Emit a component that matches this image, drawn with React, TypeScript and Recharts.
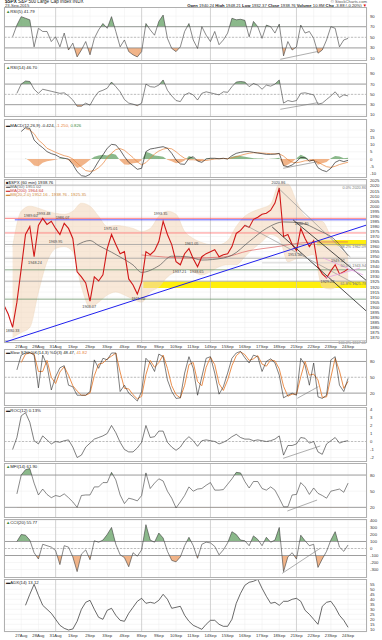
import React from 'react';
import {
  ComposedChart, Line, Area, XAxis, YAxis, CartesianGrid,
  ReferenceLine, ReferenceArea, ReferenceDot,
} from 'recharts';

const W = 382;
const PL = 4;
const PR = 15;
const PW = W - PL - PR;
const X_MIN = -1;
const X_MAX = 20.1;
const T0 = -1;
const STEP = 0.25;

const dayLabels = ['27Aug', '28Aug', '31Aug', '1Sep', '2Sep', '3Sep', '4Sep', '8Sep', '9Sep', '10Sep',
  '11Sep', '14Sep', '15Sep', '16Sep', '17Sep', '18Sep', '21Sep', '22Sep', '23Sep', '24Sep'];
const dayTicks = dayLabels.map((_, i) => i);
const weekStarts = [2, 7, 11, 16];

const price = [1902, 1893, 1880, 1905, 1938, 1972, 1980, 1950, 1981, 1988,
  1982, 1985, 1978, 1972, 1983, 1978, 1968, 1935, 1930, 1924,
  1906, 1930, 1926, 1932, 1958, 1972, 1962, 1953, 1955, 1928,
  1922, 1913, 1925, 1955, 1952, 1956, 1965, 1985, 1972, 1962,
  1945, 1942, 1953, 1958, 1948, 1940, 1950, 1953, 1955, 1957,
  1950, 1952, 1953, 1960, 1973, 1976, 1981, 1979, 1987, 1989,
  1992, 1993, 1996, 2003, 2018, 1970, 1972, 1962, 1956, 1978,
  1968, 1960, 1966, 1940, 1933, 1929, 1936, 1942, 1933, 1935,
  1938];

const bbIdx = [2, 4, 6, 8, 10, 12, 14, 16, 18, 20, 22, 24, 26, 28, 30, 32, 34, 36, 38, 40,
  42, 44, 46, 48, 50, 52, 54, 56, 58, 60, 62, 64, 66, 68, 70, 72, 74, 76, 78, 80];
const bbUpper = [1960, 1995, 2000, 1998, 1995, 1993, 1992, 1995, 2003, 2000, 1990, 1980, 1981, 1980, 1978, 1975, 1978, 1990, 1995, 1992,
  1975, 1968, 1964, 1962, 1962, 1966, 1980, 1990, 1995, 1998, 2002, 2022, 2022, 2005, 1990, 1986, 1985, 1970, 1958, 1952];
const bbLower = [1870, 1875, 1880, 1915, 1945, 1958, 1960, 1955, 1920, 1900, 1905, 1912, 1915, 1912, 1908, 1905, 1915, 1920, 1930, 1935,
  1938, 1935, 1932, 1935, 1940, 1942, 1942, 1950, 1958, 1965, 1972, 1968, 1945, 1948, 1950, 1952, 1920, 1918, 1922, 1924];

const ma50Idx = [17, 20, 22, 25, 27, 30, 32, 36, 39, 43, 46, 51, 53, 57, 61, 65, 69, 73, 77, 80];
const ma50 = [1961.6, 1966, 1961, 1954.5, 1949.7, 1941.8, 1934.5, 1941, 1950.5, 1949.7, 1946.7, 1948.7, 1951.5, 1965, 1978, 1984.4, 1983.4, 1976.4, 1966.5, 1951];
const ma200Idx = [32, 43, 51, 57, 63, 69, 74, 80];
const ma200 = [1951.7, 1948.7, 1949.7, 1956, 1959.6, 1963.6, 1964.6, 1964.6];

const rsi5 = [null, null, 51, 73, 89, 86, 83, 32, 67, 61,
  61, 42, 51, 32, 58, 26, 39, 13, 26, 42,
  17, 48, 64, 76, 67, 89, 61, 32, 45, 23,
  17, 13, 23, 76, 64, 54, 80, 92, 48, 29,
  23, 32, 61, 76, 45, 29, 70, 54, 42, 61,
  36, 45, 58, 86, 83, 84, 82, 51, 80, 70,
  48, 73, 70, 58, 75, 15, 42, 26, 32, 73,
  58, 61, 48, 20, 26, 45, 70, 67, 32, 45,
  48];

const rsi14 = [null, null, null, 52, 70, 76, 75, 60, 52, 60,
  58, 56, 54, 52, 53, 47, 39, 27, 27, 33,
  29, 44, 55, 58, 62, 74, 65, 55, 40, 33,
  31, 28, 33, 70, 65, 64, 68, 78, 58, 47,
  38, 36, 49, 53, 49, 39, 52, 55, 53, 51,
  49, 55, 54, 65, 74, 75, 74, 65, 71, 68,
  60, 68, 66, 70, 78, 33, 38, 36, 38, 52,
  53, 51, 49, 31, 33, 40, 47, 55, 44, 49,
  47];

const macd = [null, null, null, null, 19, 21.6, 21.1, 13.1, 10.1, 7.8,
  5.1, 3.7, 2.8, 1.1, 0.5, 0, -3.7, -8.7, -11.5, -12,
  -10.6, -6.4, -1.4, 2.8, 7.4, 10.1, 9.7, 6.2, 1.6, -2.3,
  -4.6, -7.1, -6.4, 5.1, 6.9, 7.4, 8, 8.5, 7.4, 3.9,
  -0.7, -3.4, -3.7, 0.5, 1.6, -1.4, -2.3, 0, 0.5, 0.5,
  0.2, 0.5, 0, 2.3, 3.9, 4.6, 5.1, 5.1, 4.6, 4.1,
  3.7, 3.2, 3.2, 3.4, 3.9, -4.6, -5.3, -4.1, -1.8, 1.1,
  0.9, -1.4, -0.7, -6, -7.8, -8.7, -6.4, -2.3, -0.9, -1.8,
  -0.9];

const signal = [null, null, null, null, null, 21, 20, 17.5, 13.1, 10.6,
  7.4, 6, 4.6, 3.4, 2.3, 1.6, 0, -2.8, -5.5, -8,
  -8.5, -8, -6, -3.2, 1, 4, 6.5, 7.2, 6, 3.5,
  1, -2, -4, -2.5, 0.5, 3.5, 5.5, 6.8, 7.5, 7,
  5, 2.5, 0.5, -0.5, -0.5, -0.8, -1.2, -1, -0.5, 0,
  0.2, 0.3, 0.3, 0.8, 1.6, 2.5, 3.3, 4, 4.3, 4.3,
  4.1, 3.9, 3.7, 3.5, 3.6, 2, -0.5, -2.2, -2.6, -2,
  -1.2, -1.2, -1, -2.2, -3.8, -5.3, -5.8, -5, -3.8, -3,
  -2.2];

const hist = [null, null, null, null, null, 0.5, -1.5, -4.5, -5, -2.5,
  -1.5, -1, -0.5, 0.3, 0.5, -0.8, -3.5, -6.2, -5, -3,
  -0.5, 1.5, 2.5, 3, 2.5, 3.8, 3, -1, -3.8, -4,
  -3, -2.5, -1, 5, 4, 2.5, 2, 1.5, -0.5, -1.5,
  -3, -2.5, -1, 2, 1, -1.5, -1, 0.3, 0.3, 0.2,
  0, 0.2, -0.2, 1.5, 2.3, 2, 1.5, 1, 0.5, 0.3,
  0.3, -0.2, 0.2, 0.3, 0.8, -5, -4, -2, 0.5, 3,
  1.5, -0.5, -1, -4, -3, -2, 0.5, 2, 1.8, 0.5,
  0.8];

const stoK = [null, null, null, 64, 92, 96, 97, 92, 30, 92,
  73, 26, 51, 68, 72, 35, 32, 16, 16, 16,
  23, 83, 67, 86, 83, 96, 96, 23, 35, 20,
  13, 5, 23, 86, 77, 61, 94, 89, 45, 23,
  10, 11, 58, 89, 67, 16, 51, 86, 89, 58,
  18, 32, 58, 86, 96, 99, 87, 77, 92, 89,
  61, 80, 85, 77, 54, 11, 16, 20, 16, 86,
  73, 35, 77, 13, 10, 16, 83, 89, 35, 23,
  48];

const stoD = [null, null, null, null, 78, 94, 96, 94, 61, 61,
  82, 50, 38, 60, 70, 54, 34, 24, 16, 16,
  20, 53, 75, 77, 85, 90, 96, 60, 29, 28,
  17, 9, 14, 55, 82, 69, 78, 92, 67, 34,
  17, 11, 35, 74, 78, 42, 34, 69, 88, 74,
  38, 25, 45, 72, 91, 98, 93, 82, 85, 91,
  75, 71, 83, 81, 66, 33, 14, 18, 18, 51,
  80, 54, 56, 45, 12, 13, 50, 86, 62, 29,
  42];

const roc = [null, null, -1.0, 0.5, 3.2, 3.6, 2.4, 0.1, -0.3, 0.7,
  0.2, -0.3, 0, -0.1, 0.1, 0.2, -0.7, -2.0, -1.7, -0.7,
  -0.2, 0.3, 0.5, 0.7, 1.0, 2.0, 1.1, -0.1, -1.0, -1.3,
  -1.3, -0.8, -0.1, 2.0, 0.5, 0.6, 1.3, 1.3, -0.1, -0.7,
  -1.1, -0.7, 0.1, 0.6, 0.1, -0.6, 0.1, 0.2, 0.1, 0,
  -0.3, -0.1, 0.2, 0.6, 0.9, 0.5, 0.3, 0.3, 0.1, 0.2,
  0.1, 0, 0.1, 0.3, 0.7, -1.7, -0.5, -0.5, -0.3, 0.5,
  0.4, -0.2, 0, -1.3, -1.6, -0.3, 0.1, 0.5, -0.2, 0,
  0.1];

const mfi = [null, null, null, 45, 80, 90, 92, 65, 43, 54,
  44, 38, 42, 40, 45, 38, 30, 20, 42, 43,
  43, 58, 58, 66, 66, 85, 71, 43, 27, 37,
  35, 32, 42, 84, 55, 65, 73, 69, 50, 37,
  19, 30, 42, 58, 50, 54, 55, 61, 66, 52,
  52, 53, 63, 73, 85, 84, 68, 56, 68, 68,
  55, 52, 58, 52, 37, 21, 21, 43, 44, 66,
  58, 44, 56, 46, 42, 37, 50, 52, 54, 48,
  65];

const cci = [null, null, null, 100, 200, 190, 120, -60, -150, 60,
  40, 20, -30, -230, 40, 20, -120, -330, -80, -20,
  -160, 110, 90, 120, 200, 300, 60, -90, -130, -260,
  -60, -110, -20, 340, 120, 90, 220, 150, -40, -170,
  -190, -120, 40, 160, 40, -140, 60, 90, 80, 30,
  -90, -20, 80, 240, 200, 120, 110, 40, 180, 130,
  40, 160, 90, 120, 300, -330, -120, -60, -150, 190,
  110, 40, 60, -270, -150, -40, 120, 240, 20, -40,
  50];

const adx = [null, null, null, null, null, 34, 45, 55, 44, 34,
  30, 26, 20, 14, 11, 9.3, 10.3, 18, 30, 37,
  39, 30, 22, 20, 29, 31, 24, 19, 18, 26,
  32, 38, 41, 36, 37, 36, 39, 45, 40, 31,
  32, 33, 24, 18, 14, 12, 10, 15, 19, 19,
  15, 13, 13, 20, 36, 46, 54, 57, 58, 60,
  51, 43, 36, 37, 34, 38, 38, 40, 41, 38,
  29, 25, 20, 15, 33, 37, 38, 32, 24, 19,
  12];

// Price-panel annotations (data coordinates: trading day, price)
const hLevels = [
  { p: 2020.86, c: '#aaaaaa', from: -1, lbl: '0.0% 2020.86' },
  { p: 1988, c: '#ff6060', from: -0.95 },
  { p: 1986.5, c: '#3030ff', from: -0.37 },
  { p: 1973.5, c: '#ff7070', from: -0.95 },
  { p: 1962.1, c: '#a0a0a0', from: -1, lbl: '38.2% 1962.09' },
  { p: 1948.5, c: '#a0a0a0', from: -1 },
  { p: 1943.9, c: '#cccccc', from: 14, lbl: '50.0% 1943.94' },
  { p: 1937, c: '#6c946c', from: -1 },
  { p: 1925.8, c: '#a0a0a0', from: -1, lbl: '61.8% 1925.78' },
  { p: 1908, c: '#6c946c', from: -1 },
  { p: 1867.0, c: '#bbbbbb', from: -1, lbl: '100.0% 1867.01' },
];
const yellowBands = [
  { t1: 7.1, t2: X_MAX, p1: 1919, p2: 1925.5 },
  { t1: 17.2, t2: X_MAX, p1: 1961, p2: 1966.5 },
];
const trendLines = [
  { t1: -0.93, p1: 1865.5, t2: X_MAX, p2: 1981.5, c: '#2020ee', w: 1 },
  { t1: 15.81, p1: 1986.3, t2: X_MAX, p2: 1925.9, c: '#222222', w: 0.8 },
  { t1: 14.59, p1: 1979.4, t2: X_MAX, p2: 1895.6, c: '#222222', w: 0.8 },
  { t1: 14.94, p1: 2018, t2: 19.13, p2: 1949.7, c: '#888888', w: 0.6 },
  { t1: 13.02, p1: 1981.4, t2: 19.53, p2: 1922, c: '#888888', w: 0.6 },
  { t1: 17.56, p1: 1948.7, t2: 19.88, p2: 1931.9, c: '#e39be3', w: 0.7 },
  { t1: 17.67, p1: 1929, t2: 19.7, p2: 1938.8, c: '#e39be3', w: 0.7 },
];
const swingLabels = [
  { t: -0.5, p: 1880, text: '1880.33', pos: 'bottom' },
  { t: 0.55, p: 1987, text: '1989.60', pos: 'top' },
  { t: 0.8, p: 1947, text: '1948.24', pos: 'bottom' },
  { t: 1.3, p: 1989, text: '1993.48', pos: 'top' },
  { t: 2.0, p: 1968, text: '1969.95', pos: 'bottom' },
  { t: 2.4, p: 1985, text: '1986.07', pos: 'top' },
  { t: 3.95, p: 1904, text: '1903.07', pos: 'bottom' },
  { t: 5.2, p: 1974, text: '1975.01', pos: 'top' },
  { t: 6.8, p: 1912, text: '1911.70', pos: 'bottom' },
  { t: 8.1, p: 1989, text: '1993.35', pos: 'top' },
  { t: 9.2, p: 1939, text: '1937.21', pos: 'bottom' },
  { t: 9.9, p: 1960, text: '1961.05', pos: 'top' },
  { t: 10.2, p: 1939, text: '1938.65', pos: 'bottom' },
  { t: 14.95, p: 2020, text: '2020.86', pos: 'top' },
  { t: 15.9, p: 1955, text: '1953.50', pos: 'bottom' },
  { t: 16.3, p: 1979, text: '1980.40', pos: 'top' },
  { t: 17.8, p: 1929, text: '1929.22', pos: 'bottom' },
  { t: 18.4, p: 1943, text: '1949.52', pos: 'top' },
];

const rows: any[] = price.map((p, i) => ({
  t: T0 + i * STEP,
  price: p,
  rsi5: rsi5[i], rsi14: rsi14[i],
  macd: macd[i], signal: signal[i], hist: hist[i],
  stoK: stoK[i], stoD: stoD[i], roc: roc[i], mfi: mfi[i], cci: cci[i], adx: adx[i],
  bb: null, ma50: null, ma200: null,
}));
bbIdx.forEach((ix, k) => { rows[ix].bb = [bbLower[k], bbUpper[k]]; });
ma50Idx.forEach((ix, k) => { rows[ix].ma50 = ma50[k]; });
ma200Idx.forEach((ix, k) => { rows[ix].ma200 = ma200[k]; });

const GREEN = '#3e8a3e';
const ORANGE = '#e8823a';
const FONT = 'Liberation Sans, Arial, sans-serif';

function threshGrad(id: string, vals: (number | null)[], th: number, above: boolean, color: string) {
  const nums = vals.filter((v) => v != null) as number[];
  const hi = Math.max(th, ...nums);
  const lo = Math.min(th, ...nums);
  const off = hi === lo ? 0 : (hi - th) / (hi - lo);
  return (
    <linearGradient id={id} x1="0" y1="0" x2="0" y2="1">
      <stop offset={0} stopColor={color} stopOpacity={above ? 1 : 0} />
      <stop offset={off} stopColor={color} stopOpacity={above ? 1 : 0} />
      <stop offset={off} stopColor={color} stopOpacity={above ? 0 : 1} />
      <stop offset={1} stopColor={color} stopOpacity={above ? 0 : 1} />
    </linearGradient>
  );
}

function Panel({ top, h, domain, ticks, showX = false, children }: any) {
  const xH = showX ? 7 : 0;
  return (
    <div style={{ position: 'absolute', left: 0, top, width: W, height: h + xH }}>
      <ComposedChart width={W} height={h + xH} data={rows} margin={{ top: 0, right: 0, bottom: 0, left: PL }}>
        <CartesianGrid stroke="#ececec" strokeWidth={0.5} />
        <XAxis dataKey="t" type="number" domain={[X_MIN, X_MAX]} ticks={dayTicks} allowDataOverflow
          hide={!showX} height={xH} interval={0} tickFormatter={(v: number) => dayLabels[v] ?? ''}
          tick={{ fontSize: 4.2, fill: '#333' }} tickLine={false} axisLine={false} tickSize={1} tickMargin={1} />
        <YAxis orientation="right" width={PR} domain={domain} ticks={ticks} allowDataOverflow interval={0}
          tick={{ fontSize: 4.2, fill: '#333' }} tickLine={false} axisLine={false} tickSize={2} tickMargin={1} />
        {weekStarts.map((w) => <ReferenceLine key={'w' + w} x={w} stroke="#c4c4c4" strokeWidth={0.7} />)}
        {children}
      </ComposedChart>
      <div style={{ position: 'absolute', left: PL, top: 0, width: PW, height: h, border: '0.7px solid #b0b0b0', boxSizing: 'border-box', pointerEvents: 'none' }} />
    </div>
  );
}

const lineProps = { dot: false, isAnimationActive: false, activeDot: false as any };

function Legend({ top, children }: any) {
  return (
    <div style={{ position: 'absolute', left: 6, top, fontSize: 4.3, lineHeight: '5px', whiteSpace: 'nowrap', color: '#222' }}>
      {children}
    </div>
  );
}

function divLine(t1: number, p1: number, t2: number, p2: number, key: string) {
  return <ReferenceLine key={key} segment={[{ x: t1, y: p1 }, { x: t2, y: p2 }]} stroke="#777" strokeWidth={0.6} ifOverflow="visible" />;
}

export default function App() {
  return (
    <div style={{ position: 'absolute', left: 0, top: 0, width: W, height: 640, background: '#fff', overflow: 'hidden', fontFamily: FONT }}>
      {/* Header */}
      <div style={{ position: 'absolute', left: 5, top: 0, fontSize: 4.6, lineHeight: '4px', whiteSpace: 'nowrap', color: '#222' }}>
        <b>$SPX</b> S&amp;P 500 Large Cap Index INDX
      </div>
      <div style={{ position: 'absolute', right: 15, top: 0, fontSize: 4.2, lineHeight: '4px', whiteSpace: 'nowrap', color: '#555' }}>
        © StockCharts.com
      </div>
      <div style={{ position: 'absolute', left: 5, top: 4, fontSize: 4.2, lineHeight: '4px', whiteSpace: 'nowrap', color: '#333' }}>
        23-Sep-2015
      </div>
      <div style={{ position: 'absolute', right: 15, top: 4, fontSize: 4.2, lineHeight: '4px', whiteSpace: 'nowrap', color: '#222' }}>
        <b>Open</b> 1940.24 <b>High</b> 1948.21 <b>Low</b> 1932.37 <b>Close</b> 1938.76 <b>Volume</b> 10.8M <b>Chg</b> -3.88 (-0.20%) <span style={{ color: '#d00' }}>▼</span>
      </div>

      {/* RSI(5) */}
      <Panel top={7} h={54} domain={[5.3, 107.2]} ticks={[10, 30, 50, 70, 90]}>
        <defs>
          {threshGrad('g1u', rsi5, 70, true, GREEN)}
          {threshGrad('g1d', rsi5, 30, false, ORANGE)}
        </defs>
        <ReferenceLine y={70} stroke="#888" strokeWidth={0.8} />
        <ReferenceLine y={30} stroke="#888" strokeWidth={0.8} />
        <ReferenceLine y={50} stroke="#999" strokeWidth={0.6} strokeDasharray="2 1.5" />
        <Area dataKey="rsi5" baseValue={70} type="linear" fill="url(#g1u)" stroke="none" isAnimationActive={false} activeDot={false} />
        <Area dataKey="rsi5" baseValue={30} type="linear" fill="url(#g1d)" stroke="none" isAnimationActive={false} activeDot={false} />
        <Line dataKey="rsi5" stroke="#3a3a3a" strokeWidth={0.6} {...lineProps} />
        {divLine(15.06, 8.5, 17.2, 23, 'd1')}
      </Panel>
      <Legend top={8.5}><span style={{ color: GREEN }}>▲</span>RSI(5) 41.79</Legend>

      {/* RSI(14) */}
      <Panel top={63} h={54} domain={[6, 111]} ticks={[10, 30, 50, 70, 90]}>
        <defs>
          {threshGrad('g2u', rsi14, 70, true, GREEN)}
          {threshGrad('g2d', rsi14, 30, false, ORANGE)}
        </defs>
        <ReferenceLine y={70} stroke="#888" strokeWidth={0.8} />
        <ReferenceLine y={30} stroke="#888" strokeWidth={0.8} />
        <ReferenceLine y={50} stroke="#999" strokeWidth={0.6} strokeDasharray="2 1.5" />
        <Area dataKey="rsi14" baseValue={70} type="linear" fill="url(#g2u)" stroke="none" isAnimationActive={false} activeDot={false} />
        <Area dataKey="rsi14" baseValue={30} type="linear" fill="url(#g2d)" stroke="none" isAnimationActive={false} activeDot={false} />
        <Line dataKey="rsi14" stroke="#3a3a3a" strokeWidth={0.6} {...lineProps} />
        {divLine(15.06, 21, 17.27, 34, 'd2')}
      </Panel>
      <Legend top={64.5}><span style={{ color: GREEN }}>▲</span>RSI(14) 46.70</Legend>

      {/* MACD */}
      <Panel top={119} h={59} domain={[-13.1, 27.6]} ticks={[-10, -5, 0, 5, 10, 15, 20]}>
        <defs>
          <linearGradient id="g3" x1="0" y1="0" x2="0" y2="1">
            {(() => {
              const nums = hist.filter((v) => v != null) as number[];
              const hi = Math.max(0, ...nums);
              const lo = Math.min(0, ...nums);
              const off = (hi - 0) / (hi - lo);
              return [
                <stop key="a" offset={0} stopColor={GREEN} />,
                <stop key="b" offset={off} stopColor={GREEN} />,
                <stop key="c" offset={off} stopColor={ORANGE} />,
                <stop key="d" offset={1} stopColor={ORANGE} />,
              ];
            })()}
          </linearGradient>
        </defs>
        <Area dataKey="hist" baseValue={0} type="linear" fill="url(#g3)" stroke="none" isAnimationActive={false} activeDot={false} />
        <Line dataKey="signal" stroke={ORANGE} strokeWidth={0.7} {...lineProps} />
        <Line dataKey="macd" stroke="#2a2a2a" strokeWidth={0.7} {...lineProps} />
        {divLine(15.23, -6.4, 17.2, -1.9, 'd3')}
      </Panel>
      <Legend top={122.5}>
        <span>▬MACD(12,26,9) -0.424, </span><span style={{ color: ORANGE }}>-1.250, </span><span style={{ color: GREEN }}>0.826</span>
      </Legend>

      {/* Price */}
      <Panel top={179} h={164} domain={[1864.6, 2026.9]} showX
        ticks={[1870, 1875, 1880, 1885, 1890, 1895, 1900, 1905, 1910, 1915, 1920, 1925, 1930, 1935, 1940, 1945, 1950, 1955, 1960, 1965, 1970, 1975, 1980, 1985, 1990, 1995, 2000, 2005, 2010, 2015, 2020, 2025]}>
        {yellowBands.map((b, k) => (
          <ReferenceArea key={'yb' + k} x1={b.t1} x2={b.t2} y1={b.p1} y2={b.p2} fill="#ffee00" fillOpacity={0.95} stroke="none" ifOverflow="hidden" />
        ))}
        {hLevels.map((l, k) => (
          <ReferenceLine key={'hl' + k} segment={[{ x: l.from, y: l.p }, { x: X_MAX, y: l.p }]} stroke={l.c} strokeWidth={0.8}
            label={l.lbl ? { value: l.lbl, position: 'insideTopRight', fontSize: 3.8, fill: '#777', offset: 1 } : undefined} />
        ))}
        <Area dataKey="bb" type="monotone" connectNulls fill="#f2d6b8" fillOpacity={0.55} stroke="#ecd2b4" strokeWidth={0.4} isAnimationActive={false} activeDot={false} />
        <Line dataKey="ma200" type="monotone" connectNulls stroke="#e06060" strokeWidth={0.7} {...lineProps} />
        <Line dataKey="ma50" type="monotone" connectNulls stroke="#555555" strokeWidth={0.7} {...lineProps} />
        <Line dataKey="price" stroke="#d01818" strokeWidth={1.1} {...lineProps} />
        {trendLines.map((l, k) => (
          <ReferenceLine key={'tl' + k} segment={[{ x: l.t1, y: l.p1 }, { x: l.t2, y: l.p2 }]} stroke={l.c} strokeWidth={l.w} ifOverflow="visible" />
        ))}
        {swingLabels.map((s, k) => (
          <ReferenceDot key={'sl' + k} x={s.t} y={s.p} r={0} fill="none" stroke="none"
            label={{ value: s.text, position: s.pos as any, fontSize: 3.8, fill: '#444', offset: 2 }} />
        ))}
      </Panel>
      <Legend top={180}><span>■$SPX (60 min) 1938.76</span></Legend>
      <Legend top={184}><span style={{ color: '#666' }}>▬MA(50) 1951.02</span></Legend>
      <Legend top={188}><span style={{ color: '#d04040' }}>▬MA(200) 1964.64</span></Legend>
      <Legend top={192}><span style={{ color: '#d08a40' }}>▬BB(20,2.0) 1952.16 - 1938.76 - 1925.35</span></Legend>

      {/* Slow Stochastic */}
      <Panel top={349} h={57} domain={[-4.4, 103.6]} ticks={[20, 50, 80]}>
        <ReferenceLine y={80} stroke="#888" strokeWidth={0.8} />
        <ReferenceLine y={20} stroke="#888" strokeWidth={0.8} />
        <ReferenceLine y={50} stroke="#999" strokeWidth={0.6} strokeDasharray="2 1.5" />
        <Line dataKey="stoD" stroke={ORANGE} strokeWidth={0.9} {...lineProps} />
        <Line dataKey="stoK" stroke="#2a2a2a" strokeWidth={0.6} {...lineProps} />
        {divLine(16.05, 10.2, 17.27, 32.2, 'd5')}
      </Panel>
      <Legend top={349.5}>
        <span>▬Slow STO %K(14,3) %D(3) 48.47, </span><span style={{ color: ORANGE }}>41.82</span>
      </Legend>

      {/* ROC */}
      <Panel top={407} h={55} domain={[-2.56, 4.31]} ticks={[-2, -1, 0, 1, 2, 3, 4]}>
        <ReferenceLine y={0} stroke="#999" strokeWidth={0.6} strokeDasharray="2 1.5" />
        <Line dataKey="roc" stroke="#2a2a2a" strokeWidth={0.6} {...lineProps} />
        {divLine(15.23, -2.1, 17.38, -0.56, 'd6')}
      </Panel>
      <Legend top={407.5}><span>▬ROC(12) 0.13%</span></Legend>

      {/* MFI */}
      <Panel top={463} h={55} domain={[0.2, 102.4]} ticks={[20, 50, 80]}>
        <defs>
          {threshGrad('g7u', mfi, 80, true, GREEN)}
          {threshGrad('g7d', mfi, 20, false, ORANGE)}
        </defs>
        <ReferenceLine y={80} stroke="#888" strokeWidth={0.8} />
        <ReferenceLine y={20} stroke="#888" strokeWidth={0.8} />
        <Area dataKey="mfi" baseValue={80} type="linear" fill="url(#g7u)" stroke="none" isAnimationActive={false} activeDot={false} />
        <Area dataKey="mfi" baseValue={20} type="linear" fill="url(#g7d)" stroke="none" isAnimationActive={false} activeDot={false} />
        <Line dataKey="mfi" stroke="#3a3a3a" strokeWidth={0.6} {...lineProps} />
        {divLine(15.47, 13.2, 17.2, 33.6, 'd7')}
      </Panel>
      <Legend top={463.5}><span style={{ color: GREEN }}>▲</span>MFI(14) 61.90</Legend>

      {/* CCI */}
      <Panel top={519} h={59} domain={[-421, 421]} ticks={[-300, -200, -100, 0, 100, 200, 300, 400]}>
        <defs>
          {threshGrad('g8u', cci, 100, true, GREEN)}
          {threshGrad('g8d', cci, -100, false, ORANGE)}
        </defs>
        <ReferenceLine y={100} stroke="#888" strokeWidth={0.8} />
        <ReferenceLine y={-100} stroke="#888" strokeWidth={0.8} />
        <ReferenceLine y={0} stroke="#999" strokeWidth={0.6} strokeDasharray="2 1.5" />
        <Area dataKey="cci" baseValue={100} type="linear" fill="url(#g8u)" stroke="none" isAnimationActive={false} activeDot={false} />
        <Area dataKey="cci" baseValue={-100} type="linear" fill="url(#g8d)" stroke="none" isAnimationActive={false} activeDot={false} />
        <Line dataKey="cci" stroke="#3a3a3a" strokeWidth={0.6} {...lineProps} />
        {divLine(15.17, -355, 17.38, 3, 'd8')}
      </Panel>
      <Legend top={520}><span style={{ color: GREEN }}>▲</span>CCI(20) 55.77</Legend>

      {/* ADX */}
      <Panel top={579} h={53} domain={[7.3, 60.3]} showX ticks={[10, 15, 20, 25, 30, 35, 40, 45, 50, 55]}>
        <Line dataKey="adx" stroke="#2a2a2a" strokeWidth={0.7} {...lineProps} />
      </Panel>
      <Legend top={580}><span>▬ADX(14) 13.12</span></Legend>
    </div>
  );
}
